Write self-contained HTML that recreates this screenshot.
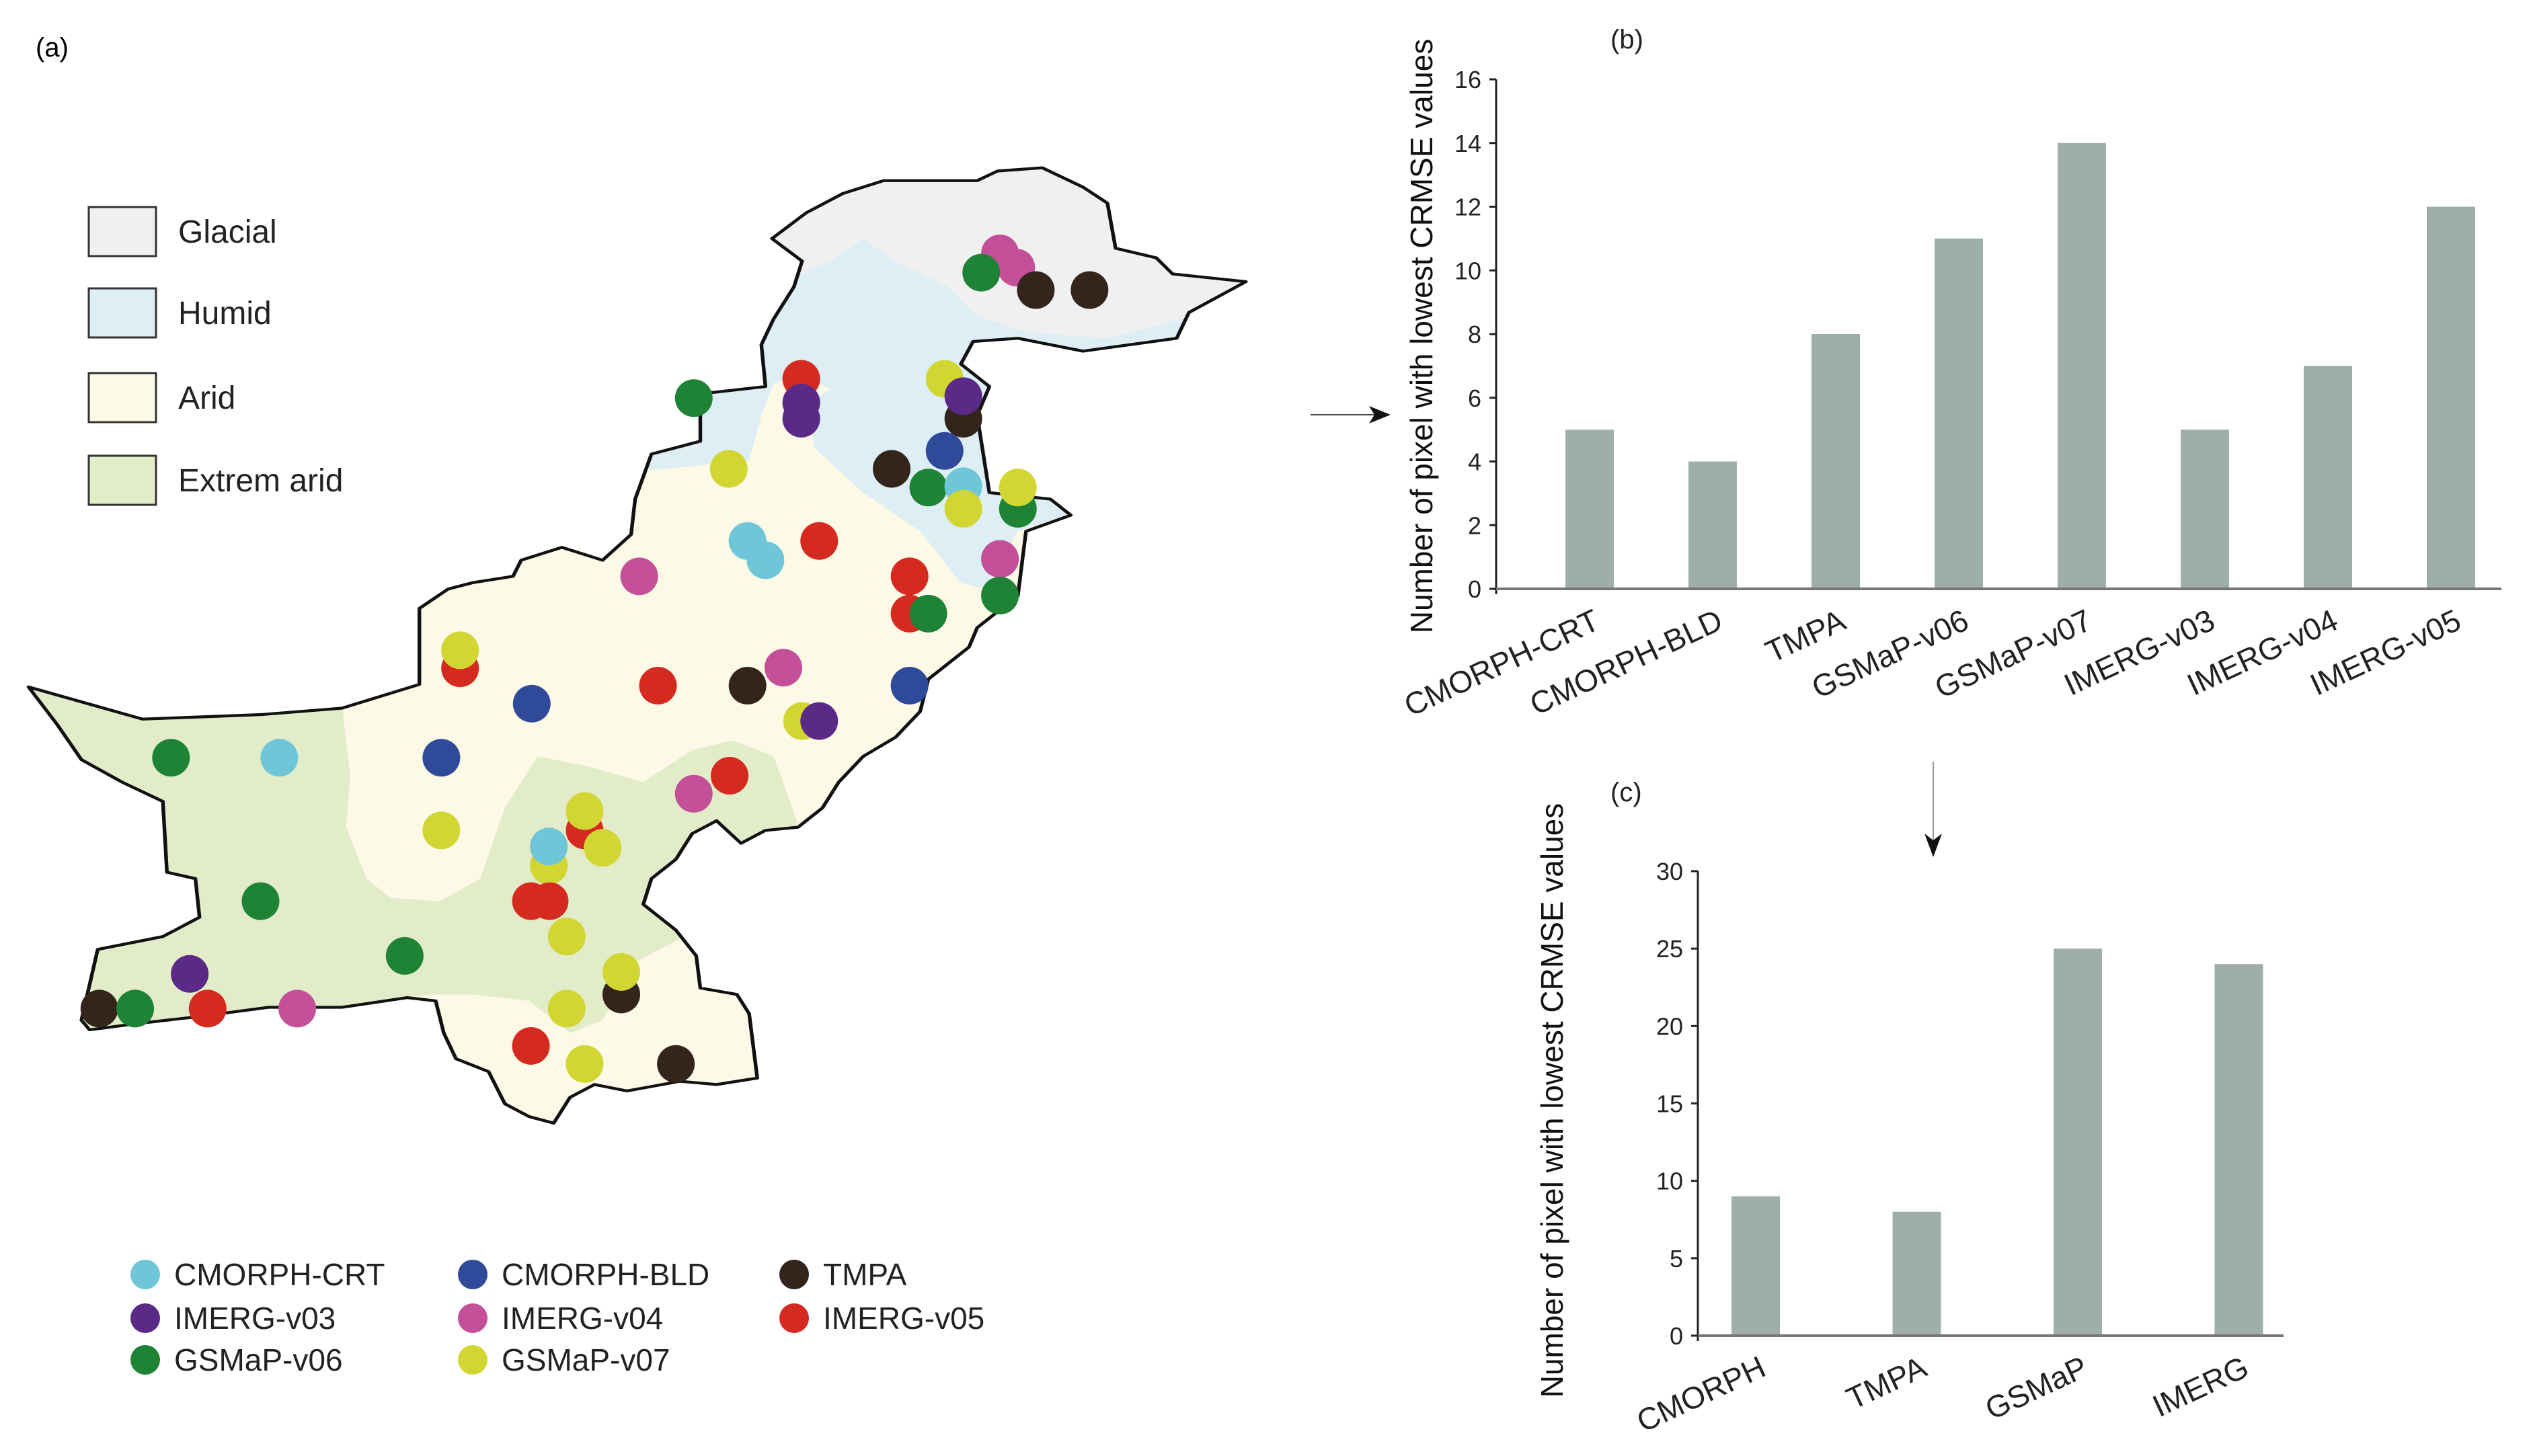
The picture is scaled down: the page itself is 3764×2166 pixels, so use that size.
<!DOCTYPE html>
<html><head><meta charset="utf-8"><style>
html,body{margin:0;padding:0;background:#fff}
svg{display:block;font-family:"Liberation Sans",sans-serif}
</style></head><body>
<svg id="fig" width="3764" height="2166" viewBox="0 0 3764 2166" xmlns="http://www.w3.org/2000/svg">
<defs>
<clipPath id="pk"><polygon id="pkpoly" transform="translate(0,197) scale(1.211,0.957)" points="35,862 175,912 320,905 420,895 515,858 515,740 550,710 580,700 630,690 640,665 690,645 740,665 775,625 780,570 800,500 860,480 860,420 835,410 940,395 935,330 950,290 975,240 985,200 948,165 990,125 1035,95 1085,75 1200,75 1225,60 1280,55 1330,85 1360,110 1370,180 1420,195 1440,220 1530,232 1460,280 1445,320 1330,340 1250,320 1195,325 1180,360 1215,395 1200,440 1205,480 1215,560 1290,570 1315,595 1260,620 1250,720 1200,770 1190,800 1140,850 1130,900 1100,940 1060,970 1030,1010 1010,1050 980,1080 940,1085 910,1105 880,1070 850,1090 830,1130 800,1160 790,1200 830,1240 855,1280 860,1330 905,1340 920,1370 930,1470 880,1480 835,1475 770,1490 730,1480 700,1500 680,1540 650,1530 620,1510 600,1460 560,1440 545,1400 535,1350 500,1345 420,1360 330,1360 240,1375 170,1385 110,1395 100,1380 120,1270 200,1250 245,1220 240,1160 205,1150 200,1040 150,1010 100,975 70,920"/></clipPath>
</defs>
<text x="53" y="84" font-size="40">(a)</text>
<g>
 <g clip-path="url(#pk)">
  <rect x="0" y="0" width="2000" height="2000" fill="#FCF9E6"/>
  <g transform="translate(0,197) scale(1.211,0.957)">
   <polygon fill="#DDEEF4" points="900,220 985,220 1020,200 1060,165 1100,200 1165,240 1200,285 1260,310 1360,320 1600,240 1600,600 1300,600 1250,620 1210,710 1180,700 1130,620 1060,560 1000,490 990,420 1020,400 990,375 950,390 935,440 920,510 800,525 760,500"/>
   <polygon fill="#F0F0F0" points="900,0 1600,0 1600,240 1360,320 1260,310 1200,285 1165,240 1100,200 1060,165 1020,200 985,220 900,220"/>
   <polygon fill="#E2ECC9" points="0,850 420,890 430,1000 425,1080 450,1160 480,1190 540,1195 590,1160 620,1050 660,970 720,985 790,1010 850,960 900,945 950,970 980,1075 950,1100 900,1110 850,1160 840,1250 780,1290 740,1380 700,1400 650,1350 580,1340 530,1340 500,1345 400,1500 0,1500"/>
  </g>
 </g>
 <use href="#pkpoly" fill="none" stroke="#111" stroke-width="4.5" stroke-linejoin="round"/>
 <g id="dots"></g>
</g>
<g font-size="48" fill="#222">
 <rect x="132" y="308" width="100" height="73" fill="#F0F0F0" stroke="#333" stroke-width="3"/>
 <text x="265" y="361">Glacial</text>
 <rect x="132" y="429" width="100" height="73" fill="#DDEEF4" stroke="#333" stroke-width="3"/>
 <text x="265" y="482">Humid</text>
 <rect x="132" y="555" width="100" height="73" fill="#FCF9E6" stroke="#333" stroke-width="3"/>
 <text x="265" y="608">Arid</text>
 <rect x="132" y="678" width="100" height="73" fill="#E2ECC9" stroke="#333" stroke-width="3"/>
 <text x="265" y="731">Extrem arid</text>
</g>
<g id="prodlegend" font-size="46" fill="#222"></g>
<g><line x1="1949" y1="617" x2="2050" y2="617" stroke="#444" stroke-width="2"/><polygon points="2068,617 2036,604 2044,617 2036,630" fill="#111"/></g>
<g><line x1="2875" y1="1133" x2="2875" y2="1255" stroke="#999" stroke-width="2"/><polygon points="2875,1275 2862,1240 2875,1250 2888,1240" fill="#111"/></g>
<g id="chartb"></g>
<g id="chartc"></g>
</svg>
<script>
const productNames = ["CMORPH-CRT","CMORPH-BLD","TMPA","GSMaP-v06","GSMaP-v07","IMERG-v03","IMERG-v04","IMERG-v05"];
const productCounts = [5,4,8,11,14,5,7,12];
const ticksB = [0,2,4,6,8,10,12,14,16];
const groupNames = ["CMORPH","TMPA","GSMaP","IMERG"];
const groupCounts = [9,8,25,24];
const ticksC = [0,5,10,15,20,25,30];
const stationX = [1228,1248,1205,1272,1338,984,984,984,852,1160,1183,1183,1160,1095,1140,1183,1183,1250,1250,1228,1228,895,918,940,1006,785,1117,1117,1140,565,565,653,808,918,962,1117,985,1006,210,343,542,896,852,542,718,718,740,674,674,652,675,320,497,696,233,763,763,122,166,255,365,696,652,718,830];
const stationY = [188,210,218,245,245,383,420,445,413,383,445,410,495,523,552,550,585,585,552,663,720,523,635,665,635,690,690,748,748,833,805,888,860,860,832,860,915,915,972,972,972,1000,1028,1085,1085,1055,1112,1140,1110,1195,1195,1195,1280,1250,1308,1340,1305,1362,1362,1362,1362,1362,1420,1448,1448];
const stationProduct = ["IMERG-v04","IMERG-v04","GSMaP-v06","TMPA","TMPA","IMERG-v05","IMERG-v03","IMERG-v03","GSMaP-v06","GSMaP-v07","TMPA","IMERG-v03","CMORPH-BLD","TMPA","GSMaP-v06","CMORPH-CRT","GSMaP-v07","GSMaP-v06","GSMaP-v07","IMERG-v04","GSMaP-v06","GSMaP-v07","CMORPH-CRT","CMORPH-CRT","IMERG-v05","IMERG-v04","IMERG-v05","IMERG-v05","GSMaP-v06","IMERG-v05","GSMaP-v07","CMORPH-BLD","IMERG-v05","TMPA","IMERG-v04","CMORPH-BLD","GSMaP-v07","IMERG-v03","GSMaP-v06","CMORPH-CRT","CMORPH-BLD","IMERG-v05","IMERG-v04","GSMaP-v07","IMERG-v05","GSMaP-v07","GSMaP-v07","GSMaP-v07","CMORPH-CRT","IMERG-v05","IMERG-v05","GSMaP-v06","GSMaP-v06","GSMaP-v07","IMERG-v03","TMPA","GSMaP-v07","TMPA","GSMaP-v06","IMERG-v05","IMERG-v04","GSMaP-v07","IMERG-v05","GSMaP-v07","TMPA"];
const colorOf = {"CMORPH-CRT":"#6EC6D8","CMORPH-BLD":"#2E4A98","TMPA":"#33241C","IMERG-v03":"#5A2A86","IMERG-v04":"#C4509A","IMERG-v05":"#D42A20","GSMaP-v06":"#1E8334","GSMaP-v07":"#D1D633"};
const NS="http://www.w3.org/2000/svg";
function mk(tag,attrs,parent){const e=document.createElementNS(NS,tag);for(const k in attrs)e.setAttribute(k,attrs[k]);parent.appendChild(e);return e;}
const dots=document.getElementById('dots');
for(let i=0;i<stationX.length;i++){
  const c=mk('circle',{cx:stationX[i]*1.211,cy:stationY[i]*0.957+197,r:28,fill:colorOf[stationProduct[i]]},dots);
  
  
}
const legOrder=["CMORPH-CRT","CMORPH-BLD","TMPA","IMERG-v03","IMERG-v04","IMERG-v05","GSMaP-v06","GSMaP-v07"];
const pl=document.getElementById('prodlegend');
legOrder.forEach((n,i)=>{
  const col=i%3,row=Math.floor(i/3);
  const x=[216,703,1181][col], y=[1896,1961,2023][row];
  const c=mk('circle',{cx:x,cy:y,r:22,fill:colorOf[n]},pl);
  
  
  const t=mk('text',{x:x+43,y:y+16},pl);t.textContent=n;
  
  
});
function barChart(g,cats,vals,ticks,o){
  const ymax=ticks[ticks.length-1];
  const yS=v=>o.y0-(o.y0-o.yTop)*v/ymax;
  const xS=i=>o.x1+i*o.pitch;
  const lbl=mk('text',{x:o.lx,y:o.ly,'font-size':40,fill:'#222'},g);lbl.textContent=o.label;
  
  
  vals.forEach((v,i)=>{
    const b=mk('rect',{x:xS(i)-o.bw/2,y:yS(v),width:o.bw,height:o.y0-yS(v),fill:'#9DAFA8'},g);
    
    
    const t=mk('text',{x:xS(i)+18,y:o.y0+58,'font-size':o.fs,'text-anchor':'end',fill:'#222',transform:`rotate(-25 ${xS(i)+18} ${o.y0+58})`},g);
    t.textContent=cats[i];
    
    
  });
  const ax=mk('line',{x1:o.ax,y1:o.yTop,x2:o.ax,y2:o.y0+8,stroke:'#222','stroke-width':3},g);
  
  
  const bx=mk('line',{x1:o.ax,y1:o.y0,x2:o.axEnd,y2:o.y0,stroke:'#777','stroke-width':4},g);
  
  
  ticks.forEach(v=>{
    mk('line',{x1:o.ax-10,y1:yS(v),x2:o.ax,y2:yS(v),stroke:'#222','stroke-width':3},g);
    const t=mk('text',{x:o.ax-22,y:yS(v)+13,'font-size':36,'text-anchor':'end',fill:'#222'},g);
    t.textContent=v;
    
    
  });
  const yt=mk('text',{x:o.tx,y:o.ty,'font-size':46,'text-anchor':'middle',fill:'#111',transform:`rotate(-90 ${o.tx} ${o.ty})`},g);
  yt.textContent='Number of pixel with lowest CRMSE values';
  
  
}
barChart(document.getElementById('chartb'),productNames,productCounts,ticksB,{x1:2364,pitch:183,bw:72,y0:876,yTop:118,ax:2225,axEnd:3720,lx:2395,ly:72,tx:2130,ty:500,fs:46,label:'(b)'});
barChart(document.getElementById('chartc'),groupNames,groupCounts,ticksC,{x1:2611,pitch:239.5,bw:72,y0:1987,yTop:1296,ax:2525,axEnd:3396,lx:2395,ly:1192,tx:2324,ty:1637,fs:46,label:'(c)'});
</script>
</body></html>
